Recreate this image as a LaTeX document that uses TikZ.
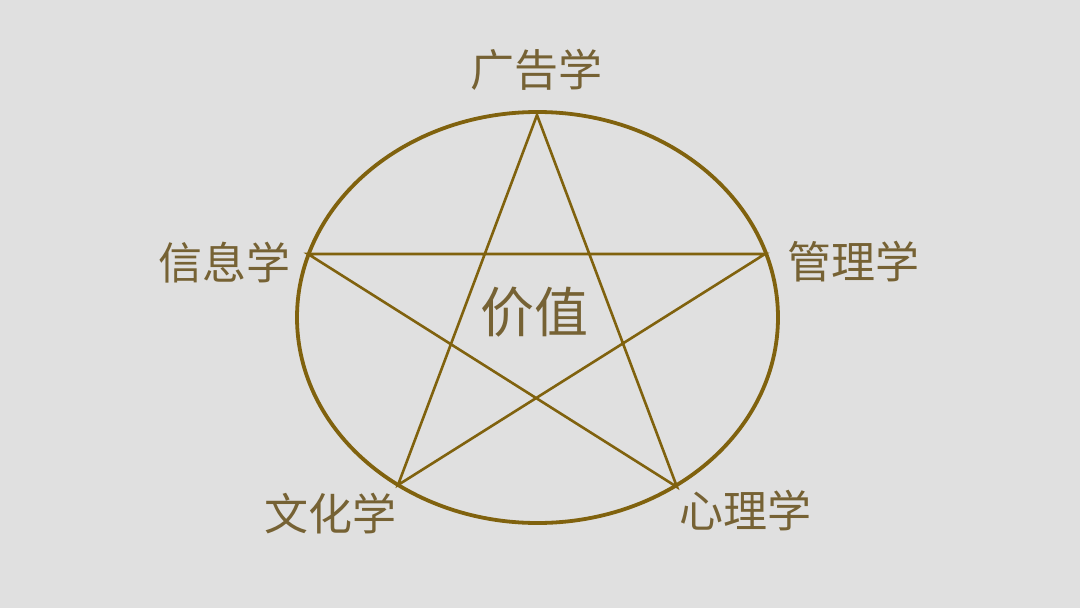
\documentclass[tikz,border=0pt]{standalone}
\usepackage{fontspec}
\newfontfamily\cjk{Noto Sans CJK SC}
\definecolor{bg}{RGB}{224,224,224}
\definecolor{gold}{RGB}{128,98,14}
\definecolor{txt}{RGB}{118,98,52}
\begin{document}
\begin{tikzpicture}[x=1pt,y=-1pt,
  lbl/.style={font=\cjk\fontsize{44}{44}\selectfont, text=txt, inner sep=0pt},
  big/.style={font=\cjk\fontsize{54}{54}\selectfont, text=txt, inner sep=0pt},
  starline/.style={draw=gold, line width=2.6pt, line join=miter}]
\fill[bg] (0,0) rectangle (1080,608);
\useasboundingbox (0,0) rectangle (1080,608);
\draw[gold, line width=3.8pt] (537.5,317.5) ellipse [x radius=240.5, y radius=205.5];
\coordinate (t) at (537,115);
\coordinate (l) at (308,254);
\coordinate (r) at (765,254);
\coordinate (bl) at (398,485);
\coordinate (br) at (677,487);
\draw[starline] (t) -- (bl) -- (r) -- (l) -- (br) -- cycle;
\node[lbl] (a) at (536,70) {广告学};
\node[lbl] (b) at (224,263) {信息学};
\node[lbl] (c) at (853,262) {管理学};
\node[lbl] (d) at (330,514) {文化学};
\node[lbl] (e) at (745,511) {心理学};
\node[big] (f) at (534,312) {价值};
\end{tikzpicture}
\end{document}
